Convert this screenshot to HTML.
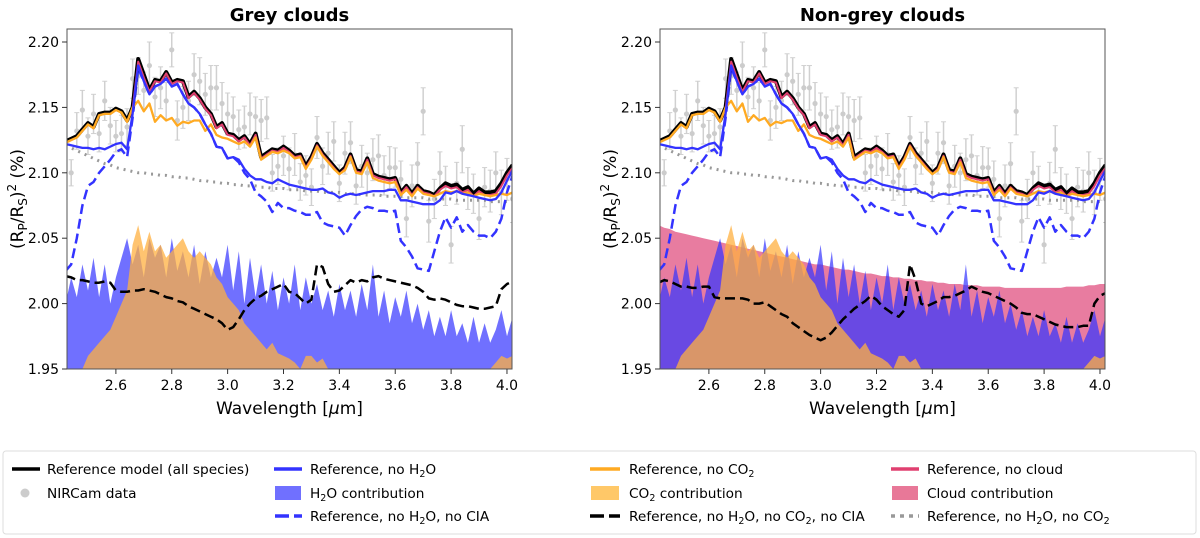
<!DOCTYPE html>
<html><head><meta charset="utf-8"><style>
body{margin:0;background:#fff;}
svg{display:block;font-family:"DejaVu Sans","Liberation Sans",sans-serif;}
</style></head><body>
<svg id="fig" width="1200" height="538" viewBox="0 0 1200 538">
<g id="panels"></g>
<g id="legend">
<rect x="3" y="451" width="1193" height="83" rx="3" fill="#fff" stroke="#ddd"/>
<g font-size="13.7" fill="#000">
<line x1="12" y1="469" x2="40" y2="469" stroke="#000" stroke-width="3.5"/>
<text x="47" y="474">Reference model (all species)</text>
<circle cx="25" cy="493" r="4.5" fill="#ccc"/>
<text x="47" y="498">NIRCam data</text>
<line x1="274" y1="469" x2="302" y2="469" stroke="#3333ff" stroke-width="3.5"/>
<text x="310" y="474">Reference, no H<tspan font-size="9.5" dy="3">2</tspan><tspan dy="-3">O</tspan></text>
<rect x="275" y="486" width="26" height="14" fill="#7070ff"/>
<text x="310" y="498">H<tspan font-size="9.5" dy="3">2</tspan><tspan dy="-3">O contribution</tspan></text>
<line x1="275" y1="516" x2="302" y2="516" stroke="#3333ff" stroke-width="3.5" stroke-dasharray="14,5"/>
<text x="310" y="521">Reference, no H<tspan font-size="9.5" dy="3">2</tspan><tspan dy="-3">O, no CIA</tspan></text>
<line x1="590" y1="469" x2="620" y2="469" stroke="#ffaa22" stroke-width="3.5"/>
<text x="629" y="474">Reference, no CO<tspan font-size="9.5" dy="3">2</tspan></text>
<rect x="591" y="486" width="28" height="14" fill="#ffc868"/>
<text x="629" y="498">CO<tspan font-size="9.5" dy="3">2</tspan><tspan dy="-3"> contribution</tspan></text>
<line x1="590" y1="516" x2="620" y2="516" stroke="#000" stroke-width="3.5" stroke-dasharray="14,5"/>
<text x="629" y="521">Reference, no H<tspan font-size="9.5" dy="3">2</tspan><tspan dy="-3">O, no CO</tspan><tspan font-size="9.5" dy="3">2</tspan><tspan dy="-3">, no CIA</tspan></text>
<line x1="891" y1="469" x2="919" y2="469" stroke="#e04070" stroke-width="3.5"/>
<text x="927" y="474">Reference, no cloud</text>
<rect x="892" y="486" width="26" height="14" fill="#e87898"/>
<text x="927" y="498">Cloud contribution</text>
<line x1="891" y1="516" x2="919" y2="516" stroke="#999" stroke-width="3.5" stroke-dasharray="4,5"/>
<text x="927" y="521">Reference, no H<tspan font-size="9.5" dy="3">2</tspan><tspan dy="-3">O, no CO</tspan><tspan font-size="9.5" dy="3">2</tspan></text>
</g></g>
</svg>
<script>
const wavelength=[2.42,2.44,2.46,2.48,2.50,2.52,2.54,2.56,2.58,2.60,2.62,2.64,2.66,2.68,2.70,2.72,2.74,2.76,2.78,2.80,2.82,2.84,2.86,2.88,2.90,2.92,2.94,2.96,2.98,3.00,3.02,3.04,3.06,3.08,3.10,3.12,3.14,3.16,3.18,3.20,3.22,3.24,3.26,3.28,3.30,3.32,3.34,3.36,3.38,3.40,3.42,3.44,3.46,3.48,3.50,3.52,3.54,3.56,3.58,3.60,3.62,3.64,3.66,3.68,3.70,3.72,3.74,3.76,3.78,3.80,3.82,3.84,3.86,3.88,3.90,3.92,3.94,3.96,3.98,4.00,4.02];
const refModel=[2.124,2.126,2.128,2.133,2.138,2.135,2.145,2.146,2.146,2.149,2.147,2.140,2.150,2.187,2.175,2.163,2.171,2.170,2.177,2.169,2.171,2.170,2.158,2.162,2.157,2.150,2.145,2.135,2.138,2.130,2.129,2.125,2.128,2.122,2.130,2.112,2.115,2.118,2.117,2.120,2.117,2.113,2.114,2.105,2.112,2.122,2.115,2.110,2.105,2.100,2.104,2.114,2.102,2.101,2.111,2.099,2.097,2.096,2.095,2.096,2.085,2.090,2.084,2.090,2.086,2.085,2.083,2.088,2.092,2.090,2.091,2.087,2.089,2.084,2.088,2.085,2.085,2.086,2.092,2.100,2.106];
const noCloud=[2.123,2.125,2.127,2.132,2.137,2.134,2.144,2.145,2.145,2.148,2.146,2.139,2.149,2.185,2.173,2.162,2.170,2.169,2.176,2.168,2.170,2.169,2.157,2.161,2.156,2.149,2.144,2.134,2.137,2.129,2.128,2.124,2.127,2.121,2.129,2.111,2.114,2.117,2.116,2.119,2.116,2.112,2.113,2.104,2.111,2.121,2.114,2.109,2.104,2.099,2.103,2.113,2.101,2.100,2.110,2.098,2.096,2.095,2.094,2.095,2.084,2.089,2.083,2.089,2.085,2.084,2.082,2.087,2.090,2.088,2.089,2.085,2.087,2.082,2.086,2.083,2.083,2.084,2.090,2.098,2.104];
const noCO2=[2.123,2.125,2.127,2.132,2.137,2.134,2.144,2.145,2.145,2.148,2.146,2.139,2.150,2.155,2.147,2.153,2.139,2.144,2.140,2.142,2.136,2.139,2.138,2.140,2.140,2.132,2.137,2.129,2.127,2.126,2.124,2.122,2.124,2.120,2.127,2.110,2.113,2.116,2.115,2.117,2.115,2.111,2.112,2.103,2.110,2.120,2.113,2.108,2.103,2.099,2.102,2.112,2.100,2.099,2.108,2.096,2.094,2.093,2.092,2.093,2.083,2.087,2.082,2.088,2.084,2.083,2.082,2.084,2.086,2.085,2.086,2.084,2.085,2.082,2.084,2.083,2.082,2.083,2.084,2.083,2.085];
const noH2O=[2.122,2.121,2.120,2.119,2.119,2.118,2.119,2.118,2.120,2.122,2.123,2.118,2.145,2.182,2.170,2.160,2.166,2.168,2.172,2.166,2.168,2.160,2.153,2.150,2.145,2.137,2.130,2.120,2.119,2.111,2.112,2.110,2.103,2.098,2.095,2.095,2.093,2.092,2.095,2.093,2.091,2.090,2.089,2.088,2.087,2.087,2.088,2.085,2.084,2.081,2.083,2.084,2.083,2.084,2.085,2.086,2.086,2.086,2.087,2.087,2.079,2.079,2.078,2.077,2.076,2.076,2.076,2.079,2.085,2.084,2.086,2.084,2.083,2.082,2.081,2.080,2.079,2.080,2.085,2.094,2.102];
const noH2OnoCIA=[2.025,2.030,2.050,2.075,2.090,2.093,2.100,2.105,2.110,2.116,2.118,2.112,2.142,2.180,2.170,2.160,2.166,2.168,2.172,2.166,2.168,2.160,2.153,2.150,2.145,2.137,2.130,2.120,2.119,2.111,2.112,2.108,2.100,2.095,2.085,2.082,2.078,2.070,2.077,2.073,2.073,2.071,2.070,2.068,2.068,2.070,2.062,2.060,2.059,2.058,2.052,2.060,2.067,2.072,2.074,2.073,2.071,2.071,2.070,2.071,2.048,2.043,2.036,2.027,2.026,2.025,2.040,2.055,2.066,2.058,2.066,2.055,2.060,2.055,2.052,2.052,2.050,2.055,2.065,2.085,2.098];
const noH2OnoCO2=[2.121,2.119,2.117,2.115,2.113,2.111,2.109,2.107,2.106,2.104,2.103,2.102,2.101,2.100,2.100,2.099,2.099,2.098,2.098,2.097,2.097,2.096,2.096,2.095,2.094,2.094,2.093,2.093,2.092,2.092,2.091,2.091,2.090,2.090,2.090,2.089,2.089,2.088,2.088,2.088,2.087,2.087,2.087,2.086,2.086,2.086,2.085,2.085,2.085,2.085,2.084,2.084,2.084,2.083,2.083,2.083,2.083,2.082,2.082,2.082,2.082,2.081,2.081,2.081,2.081,2.080,2.080,2.080,2.080,2.080,2.079,2.079,2.079,2.079,2.079,2.079,2.078,2.078,2.078,2.078,2.078];
const noAllGrey=[2.021,2.020,2.018,2.018,2.017,2.016,2.016,2.017,2.016,2.010,2.009,2.009,2.010,2.010,2.011,2.010,2.009,2.007,2.005,2.004,2.002,2.001,1.998,1.996,1.994,1.992,1.990,1.988,1.985,1.980,1.982,1.988,1.995,2.000,2.004,2.006,2.009,2.011,2.013,2.015,2.009,2.008,2.004,2.000,2.003,2.030,2.028,2.015,2.009,2.010,2.014,2.018,2.016,2.018,2.017,2.020,2.021,2.019,2.018,2.017,2.016,2.015,2.014,2.012,2.009,2.004,2.003,2.004,2.003,2.001,1.999,1.998,1.998,1.997,1.996,1.996,1.997,1.998,2.011,2.015,2.017];
const noAllNonGrey=[2.016,2.018,2.017,2.015,2.013,2.013,2.012,2.012,2.013,2.013,2.005,2.004,2.004,2.004,2.004,2.004,2.003,2.000,2.000,2.001,1.998,1.995,1.992,1.990,1.985,1.982,1.979,1.976,1.974,1.972,1.974,1.978,1.983,1.988,1.992,1.996,1.999,2.002,2.006,2.003,1.998,1.995,1.992,1.990,1.995,2.030,2.018,2.000,1.998,2.000,2.002,2.005,2.005,2.006,2.008,2.010,2.013,2.011,2.009,2.008,2.006,2.004,2.002,2.000,1.997,1.993,1.992,1.992,1.990,1.988,1.986,1.984,1.983,1.982,1.982,1.982,1.983,1.983,2.000,2.006,2.008];
const h2oContribution=[2.000,2.020,2.005,2.030,2.010,2.035,2.005,2.030,2.000,2.020,2.035,2.050,2.030,2.045,2.020,2.050,2.035,2.045,2.020,2.050,2.025,2.040,2.020,2.045,2.015,2.040,2.020,2.035,2.020,2.045,2.010,2.040,2.000,2.035,2.005,2.030,2.000,2.025,1.995,2.020,2.000,2.030,1.995,2.020,2.000,2.015,1.995,2.010,1.990,2.015,1.995,2.010,1.990,2.015,1.995,2.030,1.990,2.010,1.985,2.005,1.990,2.010,1.985,2.000,1.980,1.995,1.975,1.990,1.975,1.995,1.975,1.985,1.970,1.990,1.970,1.985,1.970,1.980,1.995,1.975,1.990];
const co2Contribution=[1.950,1.950,1.950,1.950,1.960,1.965,1.970,1.975,1.980,1.990,2.000,2.010,2.045,2.060,2.040,2.055,2.040,2.045,2.035,2.040,2.045,2.050,2.040,2.035,2.040,2.035,2.030,2.020,2.015,2.005,2.000,1.995,1.985,1.980,1.975,1.970,1.965,1.970,1.962,1.960,1.958,1.955,1.950,1.960,1.960,1.955,1.958,1.950,1.950,1.950,1.950,1.950,1.950,1.950,1.950,1.950,1.950,1.950,1.950,1.950,1.950,1.950,1.950,1.950,1.950,1.950,1.950,1.950,1.950,1.950,1.950,1.950,1.950,1.950,1.950,1.950,1.950,1.955,1.960,1.958,1.960];
const cloudContribution=[2.060,2.058,2.057,2.055,2.054,2.053,2.052,2.051,2.050,2.049,2.048,2.047,2.046,2.045,2.044,2.043,2.042,2.041,2.040,2.039,2.038,2.037,2.036,2.035,2.034,2.033,2.032,2.031,2.030,2.030,2.029,2.028,2.027,2.026,2.026,2.025,2.024,2.023,2.023,2.022,2.021,2.021,2.020,2.020,2.019,2.019,2.018,2.018,2.017,2.017,2.016,2.016,2.015,2.015,2.015,2.014,2.014,2.014,2.013,2.013,2.013,2.013,2.012,2.012,2.012,2.012,2.012,2.012,2.012,2.012,2.012,2.012,2.012,2.013,2.013,2.013,2.013,2.014,2.014,2.015,2.015];
const dataWl=[2.44,2.46,2.48,2.50,2.52,2.54,2.56,2.58,2.60,2.62,2.64,2.66,2.68,2.70,2.72,2.74,2.76,2.78,2.80,2.82,2.84,2.86,2.88,2.90,2.92,2.94,2.96,2.98,3.00,3.02,3.04,3.06,3.08,3.10,3.12,3.14,3.16,3.18,3.20,3.22,3.24,3.26,3.28,3.30,3.32,3.34,3.36,3.38,3.40,3.42,3.44,3.46,3.48,3.50,3.52,3.54,3.56,3.58,3.60,3.62,3.64,3.66,3.68,3.70,3.72,3.74,3.76,3.78,3.80,3.82,3.84,3.86,3.88,3.90,3.92,3.94,3.96,3.98,4.00,4.02];
const dataVal=[2.100,2.132,2.148,2.128,2.145,2.130,2.155,2.136,2.128,2.130,2.135,2.172,2.174,2.163,2.182,2.158,2.165,2.155,2.194,2.140,2.150,2.155,2.175,2.170,2.160,2.165,2.165,2.153,2.145,2.143,2.133,2.135,2.145,2.143,2.140,2.142,2.100,2.105,2.113,2.103,2.114,2.093,2.098,2.089,2.127,2.105,2.115,2.124,2.092,2.115,2.123,2.090,2.105,2.100,2.110,2.113,2.098,2.104,2.104,2.095,2.065,2.090,2.107,2.147,2.063,2.080,2.100,2.090,2.045,2.092,2.118,2.088,2.084,2.065,2.089,2.086,2.100,2.085,2.095,2.080];
const dataErr=[0.010,0.014,0.015,0.014,0.015,0.014,0.015,0.014,0.012,0.014,0.014,0.015,0.014,0.014,0.018,0.015,0.016,0.014,0.013,0.015,0.016,0.015,0.016,0.018,0.016,0.017,0.017,0.016,0.016,0.015,0.015,0.016,0.016,0.015,0.016,0.016,0.014,0.014,0.015,0.016,0.016,0.014,0.015,0.014,0.016,0.014,0.016,0.015,0.014,0.016,0.016,0.014,0.016,0.015,0.016,0.016,0.015,0.016,0.015,0.014,0.014,0.016,0.016,0.018,0.016,0.015,0.016,0.015,0.014,0.016,0.018,0.016,0.015,0.016,0.015,0.016,0.016,0.017,0.016,0.018];
const xTicks=[2.6,2.8,3.0,3.2,3.4,3.6,3.8,4.0];
const xTickLabels=["2.6","2.8","3.0","3.2","3.4","3.6","3.8","4.0"];
const yTicks=[1.95,2.00,2.05,2.10,2.15,2.20];
const yTickLabels=["1.95","2.00","2.05","2.10","2.15","2.20"];

const NS="http://www.w3.org/2000/svg";
const XMIN=2.425,XMAX=4.018,YMIN=1.95,YMAX=2.2,TOP=29,BOT=369,Y220=42;
function mk(tag,attrs,parent){const e=document.createElementNS(NS,tag);for(const k in attrs)e.setAttribute(k,attrs[k]);parent.appendChild(e);return e;}
function drawPanel(x0,x1,title,name,cloudy,blackDash){
  const g=mk('g',{},document.getElementById('panels'));
  
  
  const ppu=(x1-x0)/(XMAX-XMIN);
  const sx=v=>x0+(v-XMIN)*ppu;
  const sy=v=>Y220+(2.2-v)*(BOT-Y220)/0.25;
  const clipId='clip'+name;
  const cp=mk('clipPath',{id:clipId},g);mk('rect',{x:x0,y:TOP,width:x1-x0,height:BOT-TOP},cp);
  const pg=mk('g',{'clip-path':'url(#'+clipId+')'},g);
  
  
  function area(arr,fill,op,nm){let d='M'+sx(wavelength[0])+','+sy(YMIN);arr.forEach((v,i)=>d+='L'+sx(wavelength[i]).toFixed(1)+','+sy(v).toFixed(1));d+='L'+sx(wavelength[arr.length-1])+','+sy(YMIN)+'Z';const p=mk('path',{d:d,fill:fill,'fill-opacity':op},pg);}
  function line(arr,col,w,dash,nm){let d='';arr.forEach((v,i)=>d+=(i?'L':'M')+sx(wavelength[i]).toFixed(1)+','+sy(v).toFixed(1));const a={d:d,fill:'none',stroke:col,'stroke-width':w,'stroke-linejoin':'round'};if(dash)a['stroke-dasharray']=dash;const p=mk('path',a,pg);}
  if(cloudy)area(cloudContribution,'#e05080',0.75,'cloud-contribution-area');
  area(h2oContribution,'#3333ff',0.7,'h2o-contribution-area');
  area(co2Contribution,'#ffb040',0.75,'co2-contribution-area');
  const dg=mk('g',{},pg);
  
  
  dataWl.forEach((w,i)=>{const x=sx(w),y=sy(dataVal[i]),e=dataErr[i]*(BOT-Y220)/0.25;
    mk('line',{x1:x,x2:x,y1:y-e,y2:y+e,stroke:'#d0d0d0','stroke-width':1.5},dg);
    mk('line',{x1:x-2.5,x2:x+2.5,y1:y-e,y2:y-e,stroke:'#d0d0d0','stroke-width':1},dg);
    mk('line',{x1:x-2.5,x2:x+2.5,y1:y+e,y2:y+e,stroke:'#d0d0d0','stroke-width':1},dg);
    const c=mk('circle',{cx:x,cy:y,r:2.6,fill:'#cccccc'},dg);
    
    });
  line(noH2OnoCO2,'#999',3,'2,5','line-no-h2o-no-co2');
  line(noH2OnoCIA,'#3333ff',2.5,'10,5','line-no-h2o-no-cia');
  line(blackDash,'#000',2.5,'10,5','line-no-h2o-co2-cia');
  line(refModel,'#000',4,null,'line-reference-model');
  line(noCloud,'#e04070',2,null,'line-no-cloud');
  line(noCO2,'#ffaa22',2.3,null,'line-no-co2');
  line(noH2O,'#3333ff',2.3,null,'line-no-h2o');
  const fr=mk('rect',{x:x0,y:TOP,width:x1-x0,height:BOT-TOP,fill:'none',stroke:'#555','stroke-width':1},g);
  
  
  xTicks.forEach((t,i)=>{const x=sx(t);mk('line',{x1:x,x2:x,y1:BOT,y2:BOT+5,stroke:'#333'},g);
    const tx=mk('text',{x:x,y:BOT+21,'text-anchor':'middle','font-size':14},g);tx.textContent=xTickLabels[i];
    
    });
  yTicks.forEach((t,i)=>{const y=sy(t);mk('line',{x1:x0-5,x2:x0,y1:y,y2:y,stroke:'#333'},g);
    const tx=mk('text',{x:x0-8,y:y+5,'text-anchor':'end','font-size':14},g);tx.textContent=yTickLabels[i];
    
    });
  const tt=mk('text',{x:(x0+x1)/2,y:21,'text-anchor':'middle','font-size':18,'font-weight':'bold'},g);tt.textContent=title;
  
  
  const xl=mk('text',{x:(x0+x1)/2,y:414,'text-anchor':'middle','font-size':17},g);xl.innerHTML='Wavelength [<tspan font-style="italic">μ</tspan>m]';
  
  
  const yx=x0-44,yy=(TOP+BOT)/2;
  const yl=mk('text',{x:yx,y:yy,'text-anchor':'middle','font-size':17,transform:'rotate(-90 '+yx+' '+yy+')'},g);
  yl.innerHTML='(R<tspan font-size="12" dy="4">P</tspan><tspan dy="-4">/R</tspan><tspan font-size="12" dy="4">S</tspan><tspan dy="-4">)</tspan><tspan font-size="12" dy="-7">2</tspan><tspan dy="7"> (%)</tspan>';
  
  
}
drawPanel(67,512,'Grey clouds','panel-grey-clouds',false,noAllGrey);
drawPanel(660,1105,'Non-grey clouds','panel-non-grey-clouds',true,noAllNonGrey);
</script>
</body></html>
